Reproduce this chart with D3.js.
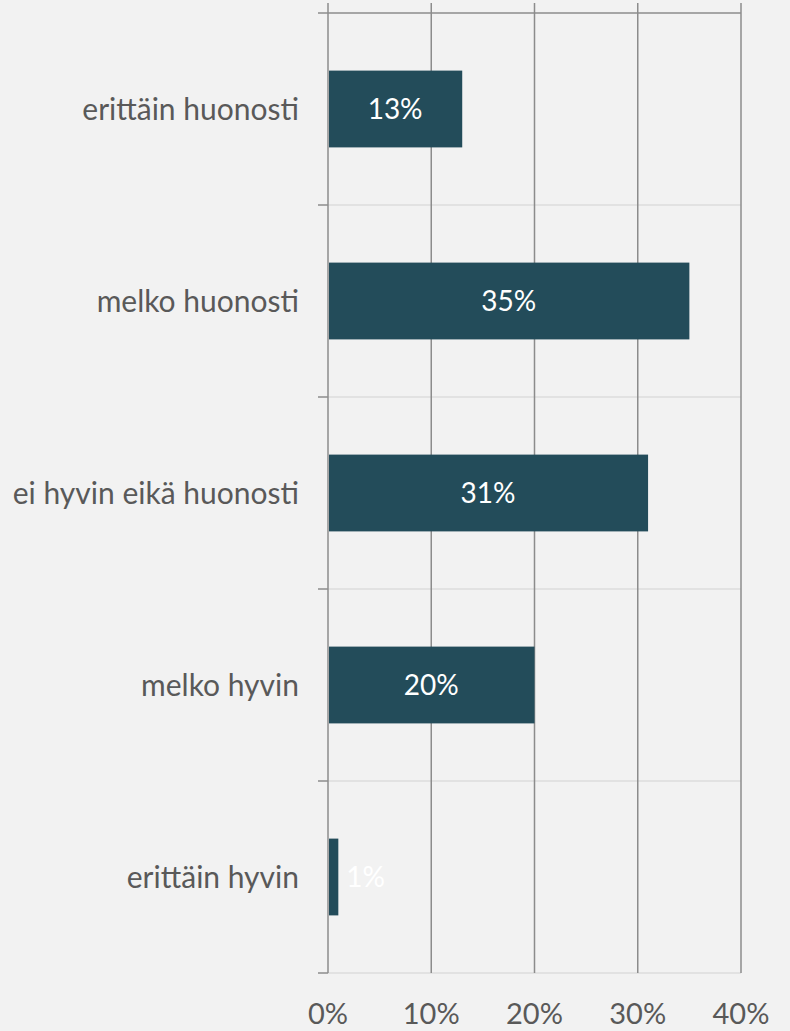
<!DOCTYPE html>
<html>
<head>
<meta charset="utf-8">
<script src="https://cdn.jsdelivr.net/npm/d3@7"></script>
<style>
  html, body { margin: 0; padding: 0; background: #f2f2f2; }
  svg { display: block; }
  text { font-family: Lato, "Open Sans", sans-serif; }
</style>
</head>
<body>
<svg id="chart" width="790" height="1031"></svg>
<script>
// Response categories, top to bottom
const categories = ["erittäin huonosti", "melko huonosti", "ei hyvin eikä huonosti", "melko hyvin", "erittäin hyvin"];
// Share of respondents per category
const shares = [0.13, 0.35, 0.31, 0.20, 0.01];
// Axis tick values
const ticks = [0, 0.1, 0.2, 0.3, 0.4];

const W = 790, H = 1031;
const plot = { left: 328, right: 741, top: 13, bottom: 973 };

const svg = d3.select("#chart");
svg.append("rect").attr("width", W).attr("height", H).attr("fill", "#f2f2f2");

const x = d3.scaleLinear().domain([0, 0.4]).range([plot.left, plot.right]);
const y = d3.scaleBand().domain(categories).range([plot.top, plot.bottom])
  .paddingInner(0.6).paddingOuter(0.3);
const step = y.step();
const fmt = d3.format(".0%");

// Light horizontal separators between categories
const bounds = categories.map((c, i) => plot.top + step * (i + 1));
svg.append("g").selectAll("line").data(bounds).join("line")
  .attr("x1", plot.left).attr("x2", plot.right)
  .attr("y1", d => d).attr("y2", d => d)
  .attr("stroke", "#e2e2e2").attr("stroke-width", 2);

// Top border line
svg.append("line")
  .attr("x1", plot.left - 10).attr("x2", plot.right)
  .attr("y1", plot.top).attr("y2", plot.top)
  .attr("stroke", "#a6a6a6").attr("stroke-width", 2);

// Vertical gridlines (including the category axis at 0%)
svg.append("g").selectAll("line").data(ticks).join("line")
  .attr("x1", d => x(d)).attr("x2", d => x(d))
  .attr("y1", plot.top - 10).attr("y2", plot.bottom)
  .attr("stroke", "#8c8c8c").attr("stroke-width", 1.5);

// Category tick marks on the left
svg.append("g").selectAll("line").data(bounds).join("line")
  .attr("x1", plot.left - 10).attr("x2", plot.left)
  .attr("y1", d => d).attr("y2", d => d)
  .attr("stroke", "#8c8c8c").attr("stroke-width", 1.5);

// Bars
svg.append("g").selectAll("rect").data(categories).join("rect")
  .attr("x", x(0) + 1)
  .attr("y", d => y(d))
  .attr("width", (d, i) => x(shares[i]) - x(0) - 1)
  .attr("height", y.bandwidth())
  .attr("fill", "#234c5a");

// Value labels
svg.append("g").selectAll("text").data(categories).join("text")
  .attr("x", (d, i) => {
    const w = x(shares[i]) - x(0);
    return w > 40 ? x(0) + w / 2 : x(shares[i]) + 8;
  })
  .attr("text-anchor", (d, i) => (x(shares[i]) - x(0) > 40 ? "middle" : "start"))
  .attr("y", d => y(d) + y.bandwidth() / 2)
  .attr("dy", "0.36em")
  .attr("fill", "#ffffff")
  .attr("font-size", 28)
  .text((d, i) => fmt(shares[i]));

// Category labels
svg.append("g").selectAll("text").data(categories).join("text")
  .attr("x", 299)
  .attr("y", d => y(d) + y.bandwidth() / 2)
  .attr("dy", "0.36em")
  .attr("text-anchor", "end")
  .attr("fill", "#595959")
  .attr("font-size", 30)
  .text(d => d);

// Percentage tick labels
svg.append("g").selectAll("text").data(ticks).join("text")
  .attr("x", d => x(d))
  .attr("y", 1014)
  .attr("dy", "0.36em")
  .attr("text-anchor", "middle")
  .attr("fill", "#595959")
  .attr("font-size", 29)
  .text(d => fmt(d));
</script>
</body>
</html>
